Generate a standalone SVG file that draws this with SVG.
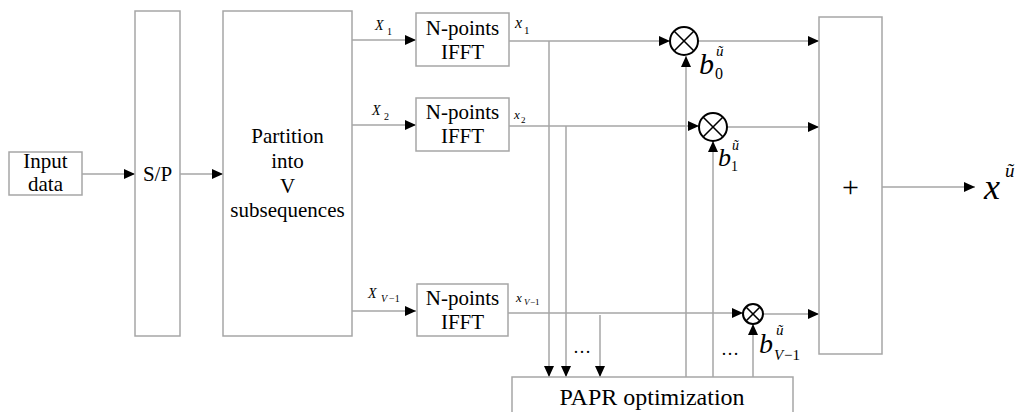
<svg xmlns="http://www.w3.org/2000/svg" width="1024" height="412" viewBox="0 0 1024 412" font-family="'Liberation Serif', 'Times New Roman', 'DejaVu Serif', serif">
<style>
text{font-family:"Liberation Serif","Times New Roman","DejaVu Serif",serif}
.box{fill:#fff;stroke:#a6a6a6;stroke-width:1.5}
.ln{fill:none;stroke:#a6a6a6;stroke-width:1.5}
.arr{marker-end:url(#ah)}
.t{font-size:21px;fill:#000;text-anchor:middle}
.m{font-style:italic;fill:#000}
.s{fill:#000}
.circ{fill:#fff;stroke:#000;stroke-width:2}
.x{stroke:#000;stroke-width:1.6}
</style>
<defs>
<marker id="ah" markerUnits="userSpaceOnUse" markerWidth="12" markerHeight="10" refX="11" refY="5" orient="auto">
<path d="M0,0 L11,5 L0,10 z" fill="#000"/>
</marker>
</defs>
<rect x="0" y="0" width="1024" height="412" fill="#fff"/>
<g id="connectors">
<line class="ln arr" x1="82" y1="174" x2="135" y2="174"/>
<line class="ln arr" x1="180" y1="174" x2="223" y2="174"/>
<line class="ln arr" x1="352" y1="40" x2="416" y2="40"/>
<line class="ln arr" x1="352" y1="125" x2="416" y2="125"/>
<line class="ln arr" x1="352" y1="311" x2="416" y2="311"/>
<line class="ln arr" x1="509" y1="41" x2="670" y2="41"/>
<line class="ln arr" x1="509" y1="126" x2="699" y2="126"/>
<line class="ln arr" x1="508" y1="313" x2="743" y2="313"/>
<line class="ln arr" x1="549" y1="41" x2="549" y2="377"/>
<line class="ln arr" x1="566" y1="126" x2="566" y2="377"/>
<line class="ln arr" x1="600" y1="315" x2="600" y2="377"/>
<line class="ln arr" x1="686" y1="377" x2="686" y2="56"/>
<line class="ln arr" x1="713" y1="377" x2="713" y2="141"/>
<line class="ln arr" x1="753" y1="377" x2="753" y2="324"/>
<line class="ln arr" x1="698" y1="41" x2="819" y2="41"/>
<line class="ln arr" x1="727" y1="127" x2="819" y2="127"/>
<line class="ln arr" x1="763" y1="314" x2="819" y2="314"/>
<line class="ln arr" x1="882" y1="187" x2="975" y2="187"/>
</g>
<g id="input">
<rect class="box" x="9" y="152" width="73" height="43"/>
<text class="t" x="45.5" y="168">Input</text>
<text class="t" x="45.5" y="191">data</text>
</g>
<g id="sp">
<rect class="box" x="135" y="11" width="45" height="325"/>
<text class="t" x="157.5" y="181">S/P</text>
</g>
<g id="partition">
<rect class="box" x="223" y="11" width="129" height="325"/>
<text class="t" x="287.5" y="143">Partition</text>
<text class="t" x="287.5" y="168">into</text>
<text class="t" x="287.5" y="193">V</text>
<text class="t" x="287.5" y="217">subsequences</text>
</g>
<g id="ifft1">
<rect class="box" x="416" y="13" width="93" height="53"/>
<text class="t" x="462.5" y="35">N-points</text>
<text class="t" x="462.5" y="59">IFFT</text>
</g>
<g id="ifft2">
<rect class="box" x="416" y="98" width="93" height="53"/>
<text class="t" x="462.5" y="119">N-points</text>
<text class="t" x="462.5" y="143">IFFT</text>
</g>
<g id="ifft3">
<rect class="box" x="417" y="284" width="91" height="52"/>
<text class="t" x="462.5" y="305">N-points</text>
<text class="t" x="462.5" y="329">IFFT</text>
</g>
<g id="labels">
<text class="m" x="375" y="30" font-size="14">X</text>
<text class="s" x="387" y="35" font-size="10">1</text>
<text class="m" x="372" y="115" font-size="14">X</text>
<text class="s" x="384" y="120" font-size="10">2</text>
<text class="m" x="368" y="298" font-size="14">X</text>
<text class="m" x="381" y="302" font-size="10">V</text>
<text class="s" x="389" y="302" font-size="10">−1</text>
<text class="m" x="515" y="28" font-size="16">x</text>
<text class="s" x="524" y="34" font-size="11">1</text>
<text class="m" x="514" y="119" font-size="13">x</text>
<text class="s" x="521" y="123" font-size="9">2</text>
<text class="m" x="516" y="302" font-size="13">x</text>
<text class="m" x="524" y="305" font-size="9">V</text>
<text class="s" x="530" y="305" font-size="9">−1</text>
<text class="s" x="582" y="353" font-size="18" text-anchor="middle">…</text>
<text class="s" x="730" y="355" font-size="18" text-anchor="middle">…</text>
</g>
<g id="mult1">
<circle class="circ" cx="684" cy="41" r="14"/>
<line class="x" x1="674" y1="31" x2="694" y2="51"/>
<line class="x" x1="694" y1="31" x2="674" y2="51"/>
<text class="m" x="699" y="74" font-size="30">b</text>
<text class="s" x="715" y="79" font-size="16">0</text>
<text class="m" x="716" y="56" font-size="15">ũ</text>
</g>
<g id="mult2">
<circle class="circ" cx="713" cy="127" r="14"/>
<line class="x" x1="703" y1="117" x2="723" y2="137"/>
<line class="x" x1="723" y1="117" x2="703" y2="137"/>
<text class="m" x="718" y="166" font-size="26">b</text>
<text class="s" x="731" y="171" font-size="14">1</text>
<text class="m" x="732" y="150" font-size="14">ũ</text>
</g>
<g id="mult3">
<circle class="circ" cx="753" cy="314" r="10"/>
<line class="x" x1="746" y1="307" x2="760" y2="321"/>
<line class="x" x1="760" y1="307" x2="746" y2="321"/>
<text class="m" x="759" y="353" font-size="28">b</text>
<text class="m" x="774" y="360" font-size="15">V</text>
<text class="s" x="784" y="360" font-size="15">−1</text>
<text class="m" x="776" y="335" font-size="15">ũ</text>
</g>
<g id="papr">
<rect class="box" x="512" y="377" width="281" height="45"/>
<text class="t" x="652" y="405" style="font-size:24px">PAPR optimization</text>
</g>
<g id="sum">
<rect class="box" x="819" y="17" width="63" height="337"/>
<text class="s" x="850.5" y="197" font-size="30" text-anchor="middle">+</text>
</g>
<g id="output">
<text class="m" x="984" y="199" font-size="36">x</text>
<text class="m" x="1005" y="177" font-size="19">ũ</text>
</g>
</svg>
